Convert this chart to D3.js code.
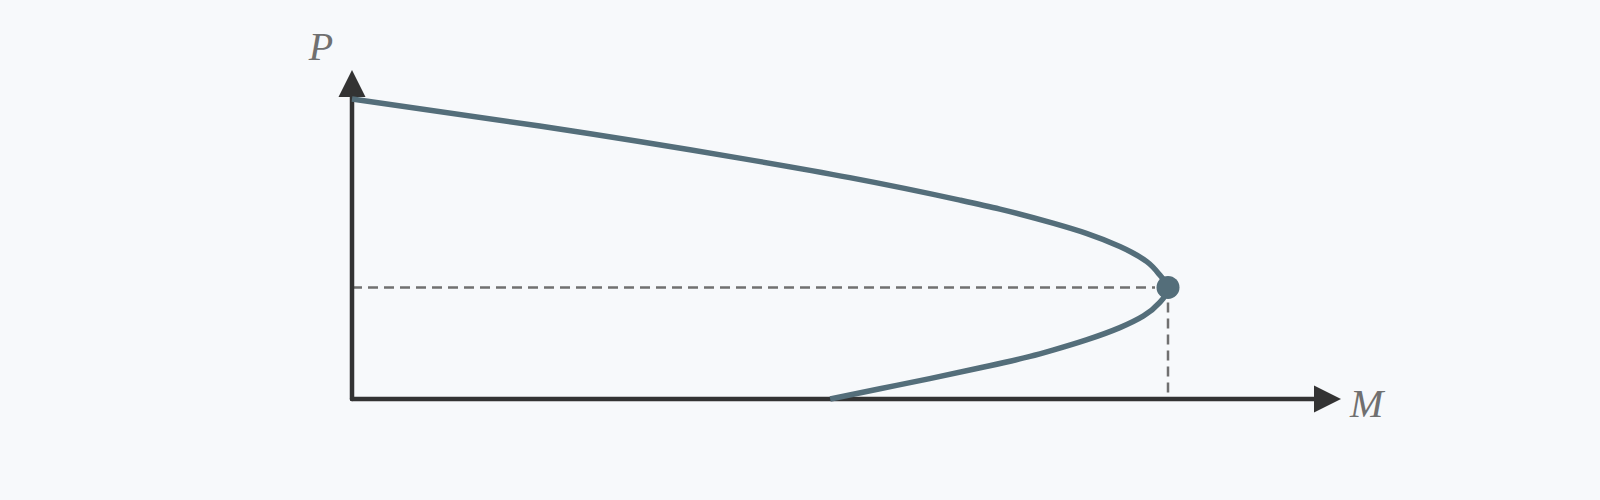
<!DOCTYPE html>
<html>
<head>
<meta charset="utf-8">
<script src="https://cdn.jsdelivr.net/npm/d3@7"></script>
<style>
  html, body { margin: 0; padding: 0; background: #f7f9fb; }
  svg { display: block; }
</style>
</head>
<body>
<svg id="chart" width="1600" height="500"></svg>
<script>
// Data (M = horizontal quantity, P = vertical quantity)
const curveM = [0, 2.30, 4.75, 6.10, 7.45, 7.94, 8.59, 9.00, 9.41, 9.74, 9.90, 10,
                9.90, 9.70, 9.41, 9.00, 8.59, 8.31, 7.70, 7.08, 6.47, 5.86];
const curveP = [1.0, 0.910, 0.803, 0.738, 0.663, 0.633, 0.586, 0.552, 0.508, 0.458, 0.413, 0.372,
                0.322, 0.277, 0.238, 0.197, 0.163, 0.142, 0.104, 0.068, 0.034, 0];
const criticalPoint = { M: 10, P: 0.372 };
const axisExtent = { M: 12.12, P: 1.097 };
const axisLabels = { x: "M", y: "P" };

const svg = d3.select("#chart");
const x = d3.scaleLinear().domain([0, 10]).range([352, 1168]);
const y = d3.scaleLinear().domain([0, 1]).range([399, 99]);

const axisColor = "#333333";
const curveColor = "#546e7a";
const dashColor = "#707070";

// dashed guide lines
svg.append("line")
  .attr("x1", x(0)).attr("x2", x(criticalPoint.M) - 13)
  .attr("y1", y(criticalPoint.P)).attr("y2", y(criticalPoint.P))
  .attr("stroke", dashColor).attr("stroke-width", 2.5).attr("stroke-dasharray", "10,6");
svg.append("line")
  .attr("x1", x(criticalPoint.M)).attr("x2", x(criticalPoint.M))
  .attr("y1", y(criticalPoint.P) + 15).attr("y2", y(0))
  .attr("stroke", dashColor).attr("stroke-width", 2.5).attr("stroke-dasharray", "10,6");

// axes
const arrowLen = 27, arrowHalf = 13.5;
svg.append("line")
  .attr("x1", x(0)).attr("y1", y(0))
  .attr("x2", x(axisExtent.M) - arrowLen).attr("y2", y(0))
  .attr("stroke", axisColor).attr("stroke-width", 4.5).attr("stroke-linecap", "round");
svg.append("line")
  .attr("x1", x(0)).attr("y1", y(0))
  .attr("x2", x(0)).attr("y2", y(axisExtent.P) + arrowLen)
  .attr("stroke", axisColor).attr("stroke-width", 4.5).attr("stroke-linecap", "round");

// arrow heads
const xt = x(axisExtent.M), yb = y(0);
svg.append("path")
  .attr("d", `M${xt},${yb} L${xt - arrowLen},${yb - arrowHalf} L${xt - arrowLen},${yb + arrowHalf} Z`)
  .attr("fill", axisColor);
const yt = y(axisExtent.P), xl = x(0);
svg.append("path")
  .attr("d", `M${xl},${yt} L${xl - arrowHalf},${yt + arrowLen} L${xl + arrowHalf},${yt + arrowLen} Z`)
  .attr("fill", axisColor);

// curve
const pts = curveM.map((m, i) => [m, curveP[i]]);
const line = d3.line()
  .x(d => x(d[0])).y(d => y(d[1]))
  .curve(d3.curveMonotoneY);
svg.append("path")
  .attr("d", line(pts))
  .attr("fill", "none")
  .attr("stroke", curveColor)
  .attr("stroke-width", 5.5)
  .attr("stroke-linejoin", "round");

// critical point
svg.append("circle")
  .attr("cx", x(criticalPoint.M)).attr("cy", y(criticalPoint.P))
  .attr("r", 11.5).attr("fill", curveColor);

// labels
svg.append("text")
  .attr("x", x(0) - 31).attr("y", 60)
  .attr("text-anchor", "middle")
  .attr("font-family", "Liberation Serif, DejaVu Serif, serif")
  .attr("font-style", "italic")
  .attr("font-size", 40)
  .attr("fill", "#707070")
  .text(axisLabels.y);
svg.append("text")
  .attr("x", xt + 9).attr("y", 417)
  .attr("text-anchor", "start")
  .attr("font-family", "Liberation Serif, DejaVu Serif, serif")
  .attr("font-style", "italic")
  .attr("font-size", 40)
  .attr("fill", "#707070")
  .text(axisLabels.x);
</script>
</body>
</html>
